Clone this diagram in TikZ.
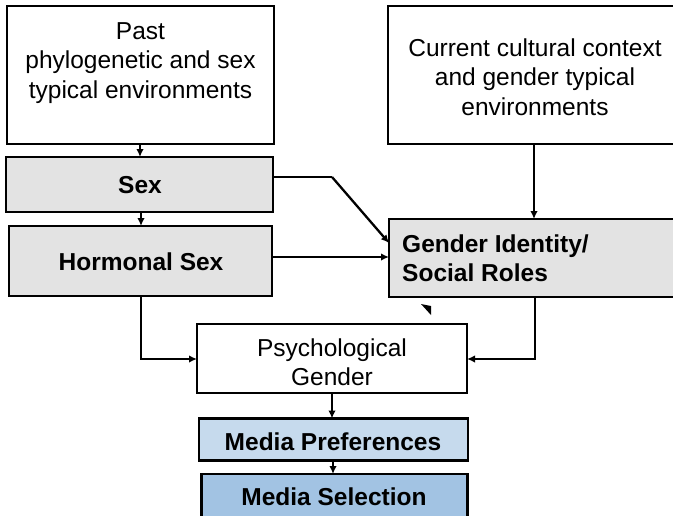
\documentclass[tikz,border=0pt]{standalone}
\usepackage{fontspec}
\setmainfont{Liberation Sans}
\usetikzlibrary{arrows.meta}
\definecolor{boxgray}{RGB}{227,227,227}
\definecolor{mediapref}{RGB}{198,218,237}
\definecolor{mediasel}{RGB}{162,195,227}
\begin{document}
\begin{tikzpicture}[x=1pt,y=-1pt,
  box/.style={draw=black,line width=2.8pt,rectangle,inner sep=0pt,outer sep=0pt,
    minimum width=#1,fill=white},
  txt/.style={font=\fontsize{24.5}{29.5}\selectfont,align=center,inner sep=0pt},
  btxt/.style={font=\fontsize{24.5}{29.5}\selectfont\bfseries,align=center,inner sep=0pt},
  conn/.style={line width=2.3pt,-{Latex[length=8pt,width=7.5pt]}}]
\useasboundingbox (0,0) rectangle (673,515);
\clip (0,0) rectangle (673,515);

% upper source boxes
\node[box=267pt,minimum height=138pt] (past) at (140.5,75) {};
\node[txt] (pastT) at (140.5,63) {Past\\phylogenetic and sex\\typical environments};
\node[box=290pt,minimum height=138pt] (cur) at (533,75) {};
\node[txt] (curT) at (535,77) {Current cultural context\\and gender typical\\environments};

% sex and identity boxes
\node[box=267pt,minimum height=55pt,fill=boxgray] (sex) at (139.5,184.5) {};
\node[btxt] (sexT) at (140,185) {Sex};
\node[box=263pt,minimum height=70pt,fill=boxgray] (horm) at (140.5,261) {};
\node[btxt] (hormT) at (141,262) {Hormonal Sex};
\node[box=290pt,minimum height=78pt,fill=boxgray] (gid) at (534,258) {};
\node[btxt,align=left,anchor=west] (gidT) at (402,258) {Gender Identity/\\Social Roles};

% outcome chain
\node[box=270pt,minimum height=69pt] (psy) at (332,358.5) {};
\node[txt] (psyT) at (332,362) {Psychological\\Gender};
\node[box=269pt,minimum height=42pt,fill=mediapref] (mpref) at (333.5,439.5) {};
\node[btxt] (mprefT) at (333,442) {Media Preferences};
\node[box=266pt,minimum height=48pt,fill=mediasel] (msel) at (334.5,498) {};
\node[btxt] (mselT) at (334,497) {Media Selection};

% connectors
\coordinate (sexBend) at (332,177);
\coordinate (gidIn) at (389,243);
\draw[conn] (past.south -| 140,0) -- (sex.north -| 140,0);
\draw[conn] (sex.south -| 141,0) -- (horm.north -| 141,0);
\draw[line width=2.3pt] (sex.east |- 0,177) -- (sexBend);
\draw[conn] (sexBend) -- (gidIn);
\draw[conn] (horm.east |- 0,257) -- (gid.west |- 0,257);
\draw[conn] (cur.south -| 534,0) -- (gid.north -| 534,0);
\draw[conn] (horm.south -| 141,0) |- (psy.west |- 0,359);
\draw[conn] (gid.south -| 535,0) |- (psy.east |- 0,359);
\draw[conn] (psy.south -| 332,0) -- (mpref.north -| 332,0);
\draw[conn] (mpref.south -| 333,0) -- (msel.north -| 333,0);

% small stray arrowhead below the identity box
\fill (421,304) -- (431,306) -- (431,315) -- cycle;
\end{tikzpicture}
\end{document}
